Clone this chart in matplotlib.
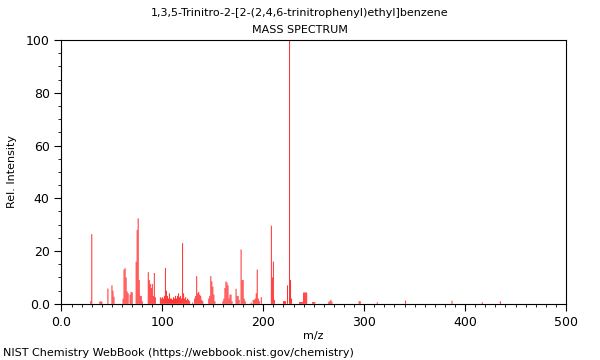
import numpy as np
from matplotlib import pyplot as plt
from matplotlib.ticker import MultipleLocator

# peak list (m/z, relative intensity)
mz = [29, 30, 38, 39, 40, 46, 50, 51, 52, 61, 62, 63, 64, 65, 66, 68, 69, 70,
      74, 75, 76, 77, 78, 79, 80, 86, 87, 88, 89, 90, 91, 92, 93,
      98, 99, 100, 101, 102, 103, 104, 105, 106, 107, 108, 109, 110, 111, 112,
      113, 114, 115, 116, 117, 118, 119, 120, 121, 122, 123, 124, 125, 126, 127,
      130, 132, 133, 134, 135, 136, 137, 138, 139, 140, 146, 147, 148, 149, 150,
      151, 152, 160, 161, 162, 163, 164, 165, 166, 167, 168, 169, 173, 174, 175,
      176, 178, 179, 180, 181, 182, 188, 190, 191, 192, 193, 194, 195, 196, 198,
      208, 209, 210, 211, 220, 221, 222, 224, 226, 227, 228, 236, 237, 238, 239,
      240, 241, 242, 243, 249, 250, 251, 265, 266, 267, 268, 295, 296, 313, 341,
      387, 417, 435]
intensity = [1, 26.4, 0.8, 1, 0.8, 5.8, 7, 5, 2.7, 1.9, 13, 13.5, 10, 4.7, 4, 3.5, 4.5, 4.4,
             16, 28, 32.4, 9, 3, 3, 1, 12, 9, 7.5, 6, 7.5, 3, 11.7, 2.5,
             2.5, 2, 2.5, 2, 3, 13.6, 5, 3, 2, 4, 2, 2, 1.5, 2.5, 2,
             3, 2, 3, 4, 2.5, 3, 2, 23, 4, 2, 2.5, 1.5, 2, 1.5, 1,
             0.5, 2, 3, 10.5, 4, 4.5, 3.5, 3, 1.5, 1, 2, 3, 10.5, 8.5, 6.5,
             3.5, 1, 1, 2, 6, 8.5, 8, 7, 2, 3.5, 3.5, 1, 5.7, 3, 3,
             1.5, 20.6, 9, 9, 2, 1, 0.5, 1.5, 1.5, 2, 4, 13, 2, 1, 2.5,
             29.6, 10, 16, 1.5, 1, 1, 1, 7, 100, 9, 2, 0.7, 0.7, 0.7, 0.7,
             4.3, 4.3, 4.3, 4.3, 0.7, 0.7, 0.7, 0.8, 1, 1.5, 0.8, 1, 1, 0.6, 1.2,
             1.2, 0.6, 1]

title = '1,3,5-Trinitro-2-[2-(2,4,6-trinitrophenyl)ethyl]benzene'

fig = plt.figure(figsize=(6, 3.6), dpi=100)
ax = fig.add_axes([0.1025, 0.156, 0.8408, 0.733])

# no pixel snapping, so lone peaks blur into two half-tone pixels like the original
ax.bar(mz, intensity, width=1.0, color='#ff3030', linewidth=0, snap=False)

ax.set_xlim(0, 500)
ax.set_ylim(0, 100)
ax.xaxis.set_minor_locator(MultipleLocator(10))
ax.yaxis.set_minor_locator(MultipleLocator(5))
ax.set_xticks([0, 100, 200, 300, 400, 500], ['0.0', '100', '200', '300', '400', '500'])
ax.set_yticks([0, 20, 40, 60, 80, 100], ['0.0', '20', '40', '60', '80', '100'])
ax.tick_params(which='major', length=5, width=0.8, labelsize=9)
ax.tick_params(which='minor', length=2.5, width=0.6)
for s in ax.spines.values():
    s.set_linewidth(0.8)

ax.set_xlabel('m/z', fontsize=8, labelpad=2)
ax.set_ylabel('Rel. Intensity', fontsize=8, labelpad=6)
fig.text(0.5, 0.963, title, ha='center', va='center', fontsize=8)
fig.text(0.5, 0.916, 'MASS SPECTRUM', ha='center', va='center', fontsize=8)
fig.text(0.005, 0.019, 'NIST Chemistry WebBook (https://webbook.nist.gov/chemistry)',
         ha='left', va='center', fontsize=8)

fig.savefig('out.png', dpi=100)
